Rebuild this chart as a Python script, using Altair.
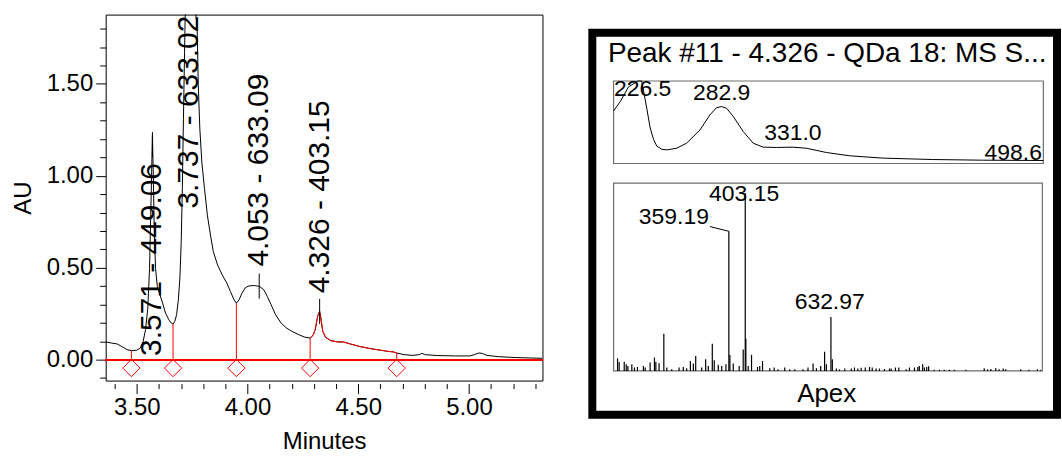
import altair as alt
import pandas as pd

FONT = "Liberation Sans"

# ---------------- chromatogram (left) ----------------
trace_t = [3.360, 3.387, 3.412, 3.436, 3.457, 3.476, 3.500, 3.516, 3.529, 3.540, 3.550, 3.558,
           3.564, 3.571, 3.575, 3.579, 3.585, 3.593, 3.605, 3.617, 3.630, 3.645, 3.656, 3.664,
           3.672, 3.680, 3.688, 3.695, 3.701, 3.706, 3.711, 3.716, 3.720, 3.737, 3.762, 3.773,
           3.778, 3.785, 3.794, 3.806, 3.819, 3.833, 3.846, 3.865, 3.886, 3.907, 3.923, 3.938,
           3.950, 3.962, 3.975, 3.991, 4.007, 4.031, 4.055, 4.074, 4.090, 4.107, 4.127, 4.152,
           4.176, 4.200, 4.232, 4.256, 4.283, 4.296, 4.306, 4.314, 4.318, 4.326, 4.332, 4.340,
           4.353, 4.377, 4.409, 4.433, 4.465, 4.505, 4.554, 4.602, 4.634, 4.658, 4.674, 4.707,
           4.747, 4.776, 4.787, 4.803, 4.859, 4.940, 5.004, 5.025, 5.044, 5.060, 5.081, 5.133,
           5.213, 5.332]
trace_au = [0.096, 0.090, 0.085, 0.069, 0.054, 0.049, 0.051, 0.063, 0.099, 0.163, 0.280, 0.497,
            0.822, 1.220, 1.003, 0.714, 0.497, 0.398, 0.352, 0.307, 0.253, 0.217, 0.199, 0.193,
            0.208, 0.244, 0.325, 0.443, 0.642, 0.931, 1.310, 1.672, 1.943, 2.600, 1.943, 1.798,
            1.491, 1.256, 1.075, 0.931, 0.786, 0.678, 0.587, 0.515, 0.461, 0.416, 0.371, 0.329,
            0.307, 0.325, 0.361, 0.392, 0.401, 0.403, 0.398, 0.380, 0.343, 0.298, 0.244, 0.199,
            0.172, 0.154, 0.136, 0.123, 0.117, 0.132, 0.163, 0.217, 0.240, 0.262, 0.222, 0.154,
            0.121, 0.103, 0.096, 0.096, 0.085, 0.072, 0.060, 0.051, 0.045, 0.042, 0.036, 0.027,
            0.023, 0.027, 0.034, 0.027, 0.022, 0.020, 0.020, 0.027, 0.036, 0.034, 0.023, 0.016,
            0.011, 0.007]
seg_start, seg_end = 4.283, 4.674
drop_t = [3.476, 3.664, 3.950, 4.283, 4.674]
drop_au = [0.049, 0.193, 0.307, 0.117, 0.036]
peak_t = [3.571, 3.737, 4.053, 4.326]
peak_au = [1.170, 2.600, 0.400, 0.262]
peak_text = ["3.571 - 449.06", "3.737 - 633.02", "4.053 - 633.09", "4.326 - 403.15"]
label_au = [0.020, 0.822, 0.506, 0.361]
x_major = [3.5, 4.0, 4.5, 5.0]
x_minor = [3.4, 3.6, 3.7, 3.8, 3.9, 4.1, 4.2, 4.3, 4.4, 4.6, 4.7, 4.8, 4.9, 5.1, 5.2, 5.3]
y_major = [0.0, 0.5, 1.0, 1.5]
y_minor = [-0.1, 0.1, 0.2, 0.3, 0.4, 0.6, 0.7, 0.8, 0.9, 1.1, 1.2, 1.3, 1.4, 1.6, 1.7, 1.8]

# ---------------- UV spectrum (right, top) ----------------
uv_nm = [210, 214.5, 220.1, 226.5, 229.0, 232.4, 234.7, 237.0, 239.2, 242.5, 245.9, 252.6,
         259.3, 268.3, 275.0, 279.5, 282.9, 286.3, 290.8, 297.5, 304.2, 310.9, 319.9, 331.1,
         340.1, 353.6, 369.3, 391.7, 425.3, 459.0, 500.0]
uv_abs = [0.637, 0.750, 0.930, 1.250, 1.000, 0.670, 0.430, 0.290, 0.210, 0.172, 0.165, 0.185,
          0.246, 0.407, 0.589, 0.677, 0.690, 0.669, 0.569, 0.387, 0.246, 0.198, 0.194, 0.198,
          0.185, 0.133, 0.093, 0.065, 0.048, 0.040, 0.036]
uv_lab_text = ["226.5", "282.9", "331.0", "498.6"]
uv_lab_nm = [229.6, 282.9, 331.0, 479.7]
uv_lab_y = [0.90, 0.85, 0.366, 0.125]

# ---------------- MS spectrum (right, bottom) ----------------
ms_mz = [60.7, 65, 78.6, 84, 88.4, 99, 106, 114, 130, 134.8, 148, 159.7, 163.4, 172, 184.8,
         192.8, 206, 225.7, 237, 246, 256, 264, 270.3, 286.4, 297, 304, 314.8, 320, 330.8, 340,
         351.4, 359.19, 362, 371, 387, 397.7, 403.15, 404.8, 411, 420, 436, 442, 449.5, 469,
         480.6, 491, 509, 522.6, 536, 558, 571.5, 585, 594, 605.5, 616, 620.7, 632.97, 636.7,
         647.5, 656, 670, 687.6, 696, 705, 714, 725, 736.5, 743.7, 754, 763, 776.6, 790, 794.5,
         806, 815, 834.7, 843.5, 857, 866, 870, 879, 883.7, 889.8, 895, 910, 923.8, 937, 950.5,
         963.8, 995, 1044, 1053, 1062, 1075, 1084, 1095, 1102, 1142, 1164, 1186.6, 1195]
ms_int = [7.1, 5.0, 5.2, 3.7, 2.8, 3.7, 1.9, 2.2, 2.8, 1.9, 4.7, 7.5, 5.0, 4.3, 20.9,
          1.9, 0.9, 1.9, 2.2, 1.5, 5.6, 4.1, 8.4, 1.9, 6.5, 2.8, 15.3, 6.0, 3.4, 2.8,
          3.7, 78.5, 9.0, 4.1, 2.8, 12.1, 100.0, 18.1, 2.8, 9.0, 2.2, 2.8, 5.6, 1.5,
          1.9, 0.9, 1.9, 0.9, 0.9, 0.9, 1.9, 4.1, 1.5, 2.8, 10.8, 3.7, 30.3, 6.5,
          1.3, 0.9, 1.3, 1.3, 1.9, 1.3, 1.7, 1.9, 2.2, 1.9, 1.3, 1.3, 1.1, 1.3, 1.3,
          1.9, 1.9, 0.9, 1.9, 1.9, 2.2, 2.8, 3.7, 1.9, 2.2, 2.6, 0.6, 0.6, 0.6, 0.6,
          0.6, 0.6, 1.5, 0.9, 1.1, 1.5, 0.9, 1.3, 0.9, 0.9, 0.7, 0.9, 0.6]
ms_lab_text = ["359.19", "403.15", "632.97"]
ms_lab_mz = [211.8, 400.0, 629.6]
ms_lab_int = [86.7, 99.6, 38.8]
leader_mz = [308.5, 359.19]
leader_int = [81.2, 78.5]

panel_title = "Peak #11 - 4.326 - QDa 18: MS S..."
panel_footer = "Apex"

# ================= left chart =================
xs = alt.Scale(domain=[3.36, 5.332], nice=False, zero=False)
ys = alt.Scale(domain=[-0.114, 1.877], nice=False, zero=False)

common = dict(domain=False, grid=False, tickColor="#000", tickWidth=1,
              labelFont=FONT, titleFont=FONT, titleFontWeight="normal",
              labelColor="#000", titleColor="#000")

x_axis_major = alt.Axis(
    values=x_major, orient="bottom", title="Minutes", offset=3, tickSize=10, format=".2f",
    labelFontSize=24, labelPadding=2, labelOverlap=False, labelFlush=False,
    titleFontSize=24, titlePadding=10, **common,
)
x_axis_minor = alt.Axis(
    values=x_minor, orient="bottom", title="", offset=3, tickSize=5, labels=False, **common,
)
y_axis_major = alt.Axis(
    values=y_major, orient="left", title="AU", tickSize=10, format=".2f",
    labelFontSize=24, labelPadding=3, labelOverlap=False, labelFlush=False,
    titleFontSize=24, titlePadding=11, **common,
)
y_axis_minor = alt.Axis(
    values=y_minor, orient="left", title="", tickSize=6, labels=False, **common,
)

trace_df = pd.DataFrame({"t": trace_t, "au": trace_au})
drop_df = pd.DataFrame({"t": drop_t, "au": drop_au})
peak_df = pd.DataFrame({"t": peak_t, "au": peak_au})
lab_df = pd.DataFrame({"t": peak_t, "au": label_au, "txt": peak_text})

trace = alt.Chart(trace_df).mark_line(color="#000", strokeWidth=1, clip=True).encode(
    x=alt.X("t:Q", scale=xs, axis=x_axis_major),
    y=alt.Y("au:Q", scale=ys, axis=y_axis_major),
)
red_seg = alt.Chart(trace_df).transform_filter(
    f"datum.t >= {seg_start} && datum.t <= {seg_end}"
).mark_line(color="#ff0000", strokeWidth=1, clip=True).encode(
    x=alt.X("t:Q", scale=xs, axis=x_axis_minor),
    y=alt.Y("au:Q", scale=ys, axis=y_axis_minor),
)
baseline = alt.Chart(trace_df).mark_rule(color="#ff0000", strokeWidth=1).encode(
    y=alt.YDatum(0, axis=None)
)
drops = alt.Chart(drop_df).mark_rule(color="#ff0000", strokeWidth=1).encode(
    x=alt.X("t:Q", scale=xs, axis=None),
    y=alt.Y("au:Q", scale=ys, axis=None),
    y2=alt.Y2Datum(0),
)
diamonds = alt.Chart(drop_df).mark_point(
    shape="diamond", size=300, filled=False, color="#ff0000", strokeWidth=1, opacity=1
).encode(
    x=alt.X("t:Q", scale=xs, axis=None),
    y=alt.YDatum(-0.046, axis=None),
)
apex = alt.Chart(peak_df).transform_calculate(
    lo="datum.au - 0.068", hi="datum.au + 0.068"
).mark_rule(color="#000", strokeWidth=1, clip=True).encode(
    x=alt.X("t:Q", scale=xs, axis=None),
    y=alt.Y("lo:Q", scale=ys, axis=None),
    y2="hi:Q",
)
labels = alt.Chart(lab_df).mark_text(
    angle=270, align="left", baseline="middle", fontSize=30, font=FONT, color="#000", clip=True
).encode(
    x=alt.X("t:Q", scale=xs, axis=None),
    y=alt.Y("au:Q", scale=ys, axis=None),
    text="txt:N",
)

left = alt.layer(trace, red_seg, baseline, drops, diamonds, apex, labels).resolve_axis(
    x="independent", y="independent"
).properties(width=438, height=367)

# ================= right panel =================
RW, RH = 474, 405
uv_x = alt.Scale(domain=[210, 500], range=[25.3, 456.3], nice=False, zero=False)
uv_y = alt.Scale(domain=[0, 1], range=[149.3, 66.6], nice=False, zero=False, clamp=True)
ms_x = alt.Scale(domain=[50, 1200], range=[25.3, 455.3], nice=False, zero=False)
ms_y = alt.Scale(domain=[0, 100], range=[357.3, 179.0], nice=False, zero=False)

one = pd.DataFrame({"k": [0]})
frame = alt.Chart(one).mark_rect(fill="transparent", stroke="#000", strokeWidth=8).encode(
    x=alt.value(4), x2=alt.value(470), y=alt.value(18.3), y2=alt.value(401.3)
)
uv_box = alt.Chart(one).mark_rect(fill="transparent", stroke="#6e6e6e", strokeWidth=1.2).encode(
    x=alt.value(25.3), x2=alt.value(456.3), y=alt.value(66.6), y2=alt.value(149.3)
)
ms_box = alt.Chart(one).mark_rect(fill="transparent", stroke="#6e6e6e", strokeWidth=1.2).encode(
    x=alt.value(25.3), x2=alt.value(455.3), y=alt.value(169.0), y2=alt.value(357.3)
)
title_txt = alt.Chart(pd.DataFrame({"s": [panel_title]})).mark_text(
    fontSize=28, font=FONT, color="#000", align="center", baseline="middle"
).encode(x=alt.value(239.5), y=alt.value(39.3), text="s:N")
footer_txt = alt.Chart(pd.DataFrame({"s": [panel_footer]})).mark_text(
    fontSize=26, font=FONT, color="#000", align="center", baseline="middle"
).encode(x=alt.value(239.0), y=alt.value(380.3), text="s:N")

uv_df = pd.DataFrame({"nm": uv_nm, "a": uv_abs})
uv_line = alt.Chart(uv_df).mark_line(color="#000", strokeWidth=1).encode(
    x=alt.X("nm:Q", scale=uv_x, axis=None),
    y=alt.Y("a:Q", scale=uv_y, axis=None),
)
uv_lab_df = pd.DataFrame({"nm": uv_lab_nm, "a": uv_lab_y, "txt": uv_lab_text})
uv_labels = alt.Chart(uv_lab_df).mark_text(
    fontSize=23, font=FONT, color="#000", align="center", baseline="middle"
).encode(
    x=alt.X("nm:Q", scale=uv_x, axis=None),
    y=alt.Y("a:Q", scale=uv_y, axis=None),
    text="txt:N",
)

ms_df = pd.DataFrame({"mz": ms_mz, "i": ms_int})
ms_bars = alt.Chart(ms_df).mark_rule(color="#000", strokeWidth=1.2).encode(
    x=alt.X("mz:Q", scale=ms_x, axis=None),
    y=alt.Y("i:Q", scale=ms_y, axis=None),
    y2=alt.Y2Datum(0),
)
ms_lab_df = pd.DataFrame({"mz": ms_lab_mz, "i": ms_lab_int, "txt": ms_lab_text})
ms_labels = alt.Chart(ms_lab_df).mark_text(
    fontSize=23, font=FONT, color="#000", align="center", baseline="middle"
).encode(
    x=alt.X("mz:Q", scale=ms_x, axis=None),
    y=alt.Y("i:Q", scale=ms_y, axis=None),
    text="txt:N",
)
leader_df = pd.DataFrame({"mz": leader_mz, "i": leader_int})
leader = alt.Chart(leader_df).mark_line(color="#000", strokeWidth=1).encode(
    x=alt.X("mz:Q", scale=ms_x, axis=None),
    y=alt.Y("i:Q", scale=ms_y, axis=None),
)

right = alt.layer(
    frame, uv_box, ms_box, title_txt, footer_txt, uv_line, uv_labels, ms_bars, leader, ms_labels
).resolve_scale(x="independent", y="independent").properties(
    width=RW, height=RH, view={"stroke": "transparent"}
)

chart = alt.hconcat(left, right, spacing=44).properties(
    padding={"left": 10, "top": 13, "right": 0, "bottom": 0},
    background="white",
).configure_view(stroke="#000", strokeWidth=1)

chart.save("out.html", embed_options={"renderer": "svg", "actions": False})
